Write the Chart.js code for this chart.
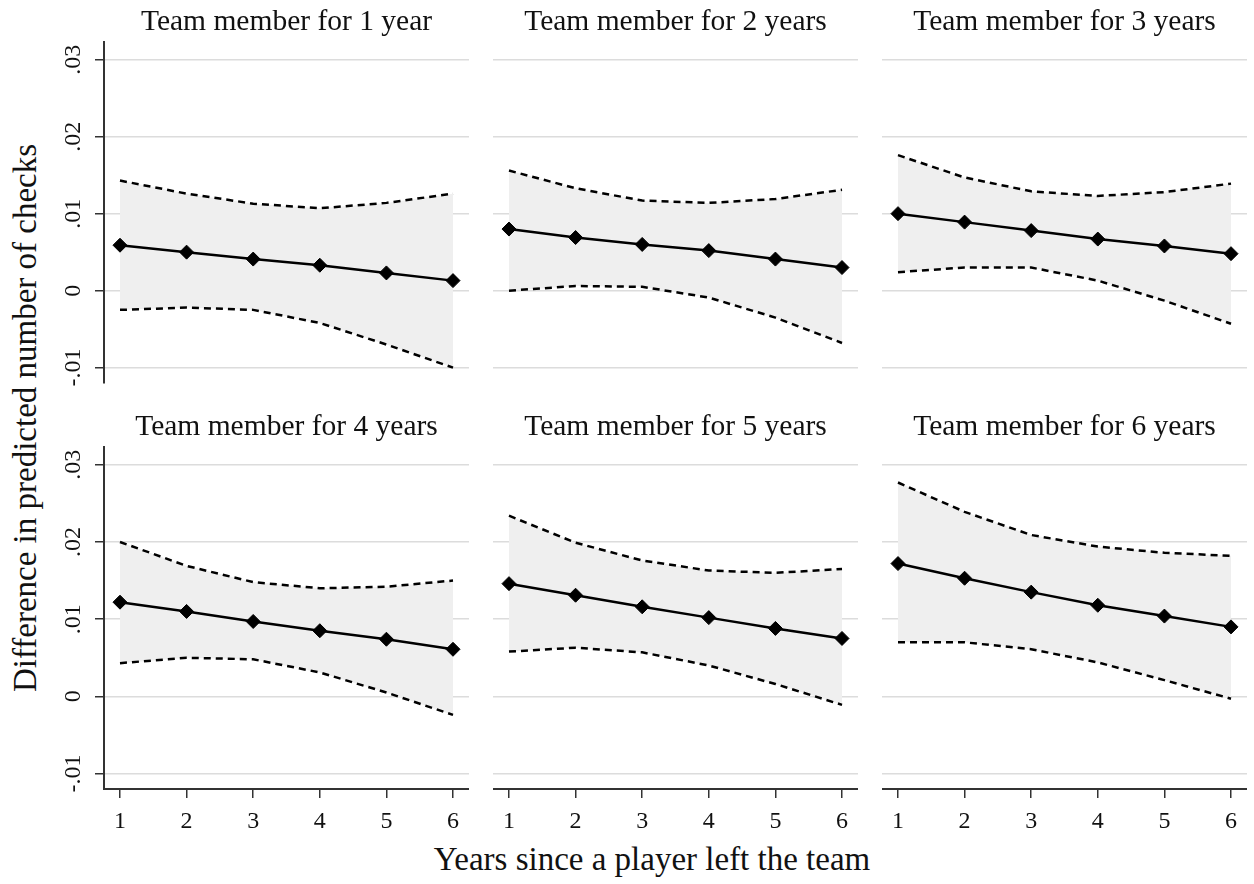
<!DOCTYPE html>
<html>
<head>
<meta charset="utf-8">
<script src="https://cdn.jsdelivr.net/npm/chart.js@4.4.1/dist/chart.umd.min.js"></script>
<style>
  body { margin: 0; background: #fff; width: 1254px; height: 884px; position: relative; overflow: hidden;
         font-family: 'Liberation Serif', 'Times New Roman', serif; color: #111; }
  canvas { position: absolute; }
  .axis-title { position: absolute; white-space: nowrap; font-size: 33px; line-height: 1; }
  #y-title { left: 25px; top: 418px; transform: translate(-50%, -50%) rotate(-90deg); }
  #x-title { left: 652px; top: 859px; transform: translate(-50%, -50%); }
</style>
</head>
<body>
<div class="axis-title" id="y-title">Difference in predicted number of checks</div>
<div class="axis-title" id="x-title">Years since a player left the team</div>
<script>
// values, one row per panel
const years = [1, 2, 3, 4, 5, 6];
const panelTitles = [
  'Team member for 1 year', 'Team member for 2 years', 'Team member for 3 years',
  'Team member for 4 years', 'Team member for 5 years', 'Team member for 6 years'
];
const yTicks = [-0.01, 0, 0.01, 0.02, 0.03];

const pointEst = [
  [0.0059, 0.0050, 0.0041, 0.0033, 0.0023, 0.0013],
  [0.0080, 0.0069, 0.0060, 0.0052, 0.0041, 0.0030],
  [0.0100, 0.0089, 0.0078, 0.0067, 0.0058, 0.0048],
  [0.0122, 0.0110, 0.0097, 0.0085, 0.0074, 0.0061],
  [0.0146, 0.0131, 0.0116, 0.0102, 0.0088, 0.0075],
  [0.0172, 0.0153, 0.0135, 0.0118, 0.0104, 0.0090]
];
const upperCI = [
  [0.0143, 0.0126, 0.0113, 0.0107, 0.0114, 0.0126],
  [0.0156, 0.0133, 0.0117, 0.0114, 0.0119, 0.0131],
  [0.0176, 0.0147, 0.0129, 0.0123, 0.0128, 0.0139],
  [0.0200, 0.0169, 0.0148, 0.0140, 0.0142, 0.0150],
  [0.0234, 0.0199, 0.0176, 0.0163, 0.0160, 0.0165],
  [0.0277, 0.0239, 0.0209, 0.0194, 0.0186, 0.0182]
];
const lowerCI = [
  [-0.0025, -0.0022, -0.0025, -0.0042, -0.0070, -0.0100],
  [0.0000, 0.0006, 0.0005, -0.0009, -0.0035, -0.0068],
  [0.0024, 0.0030, 0.0030, 0.0013, -0.0013, -0.0043],
  [0.0043, 0.0050, 0.0048, 0.0031, 0.0005, -0.0024],
  [0.0058, 0.0063, 0.0057, 0.0040, 0.0016, -0.0011],
  [0.0070, 0.0070, 0.0061, 0.0044, 0.0021, -0.0003]
];

const SERIF = "'Liberation Serif', 'Times New Roman', serif";
const INK = '#111';
const AXIS = '#333';
const GRID = '#dcdcdc';
const BAND = '#efefef';

// panel placement
const colLeft = [40, 493, 882];
const colWidth = [429, 365, 365];
const yAxisWidth = [64, 0, 0];
const rowTop = [0, 405];
const rowHeight = [400, 429];

function fmtTick(v) {
  if (Math.abs(v) < 1e-9) return '0';
  return v.toFixed(2).replace('0.', '.');
}

function makePanel(i) {
  const row = Math.floor(i / 3), col = i % 3;
  const isLeft = col === 0, isBottom = row === 1;
  const canvas = document.createElement('canvas');
  canvas.width = colWidth[col];
  canvas.height = rowHeight[row];
  canvas.style.left = colLeft[col] + 'px';
  canvas.style.top = rowTop[row] + 'px';
  document.body.appendChild(canvas);

  const pts = arr => years.map((x, k) => ({ x, y: arr[k] }));
  const dashed = { borderColor: '#000', borderWidth: 2.5, borderDash: [7, 5], pointRadius: 0, tension: 0 };

  new Chart(canvas, {
    type: 'line',
    data: {
      datasets: [
        { label: 'Estimate', data: pts(pointEst[i]), borderColor: '#000', borderWidth: 2.5,
          pointStyle: 'rectRot', pointRadius: 7, pointBackgroundColor: '#000', pointBorderColor: '#000',
          pointBorderWidth: 1, fill: false, tension: 0 },
        { label: 'Upper CI', data: pts(upperCI[i]), ...dashed, fill: '+1', backgroundColor: BAND },
        { label: 'Lower CI', data: pts(lowerCI[i]), ...dashed, fill: false }
      ]
    },
    options: {
      responsive: false,
      animation: false,
      events: [],
      layout: { padding: { bottom: isBottom ? 0 : 17 }, autoPadding: false },
      plugins: {
        legend: { display: false },
        tooltip: { enabled: false },
        filler: { drawTime: 'beforeDatasetsDraw' },
        title: {
          display: true, text: panelTitles[i], fullSize: false, color: INK,
          font: { family: SERIF, size: 29.5, weight: 'normal', lineHeight: 1 },
          padding: { top: 7.75, bottom: 4.75 }
        }
      },
      scales: {
        x: {
          type: 'linear', min: 0.76, max: 6.24, display: isBottom,
          afterBuildTicks: s => { s.ticks = years.map(v => ({ value: v })); },
          afterFit: s => { s.height = isBottom ? 45 : 0; },
          grid: { drawOnChartArea: false, drawTicks: true, tickLength: 9, color: AXIS, tickColor: AXIS, lineWidth: 1.5 },
          border: { display: true, color: AXIS, width: 2 },
          ticks: { padding: 9, color: INK, font: { family: SERIF, size: 24 }, maxRotation: 0, autoSkip: false,
                   callback: v => String(v) }
        },
        y: {
          min: -0.012, max: 0.0323,
          afterBuildTicks: s => { s.ticks = yTicks.map(v => ({ value: v })); },
          afterFit: s => { s.width = yAxisWidth[col]; },
          grid: { color: GRID, lineWidth: 1.5, drawTicks: isLeft, tickLength: 9, tickColor: AXIS },
          border: { display: isLeft, color: AXIS, width: 2 },
          ticks: { display: isLeft, minRotation: 90, maxRotation: 90, crossAlign: 'center', padding: 2.5,
                   color: INK, font: { family: SERIF, size: 24 }, callback: fmtTick }
        }
      }
    }
  });
}

for (let i = 0; i < 6; i++) makePanel(i);
</script>
</body>
</html>
